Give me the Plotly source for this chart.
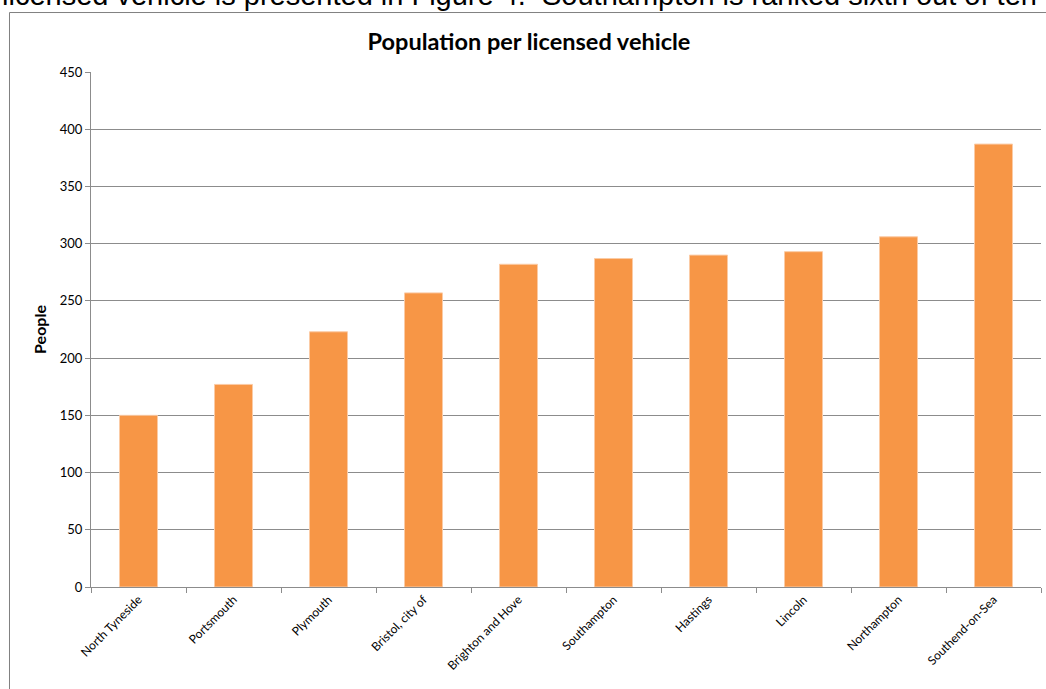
import plotly.graph_objects as go

areas = [
    "North Tyneside", "Portsmouth", "Plymouth", "Bristol, city of",
    "Brighton and Hove", "Southampton", "Hastings", "Lincoln",
    "Northampton", "Southend-on-Sea",
]
people = [150, 177, 223, 257, 282, 287, 290, 293, 306, 387]

BAR = "#F79646"
GRID = "#8C8C8C"

fig = go.Figure(
    go.Bar(
        x=areas,
        y=people,
        marker=dict(color=BAR, line=dict(color="#FBCBA5", width=1)),
        width=0.4,
    )
)

fig.update_layout(
    width=1046,
    height=689,
    margin=dict(l=91, r=5, t=72, b=102, autoexpand=False),
    paper_bgcolor="white",
    plot_bgcolor="white",
    font=dict(family="Lato, Open Sans, sans-serif", color="#000000"),
    showlegend=False,
    title=dict(
        text="<b>Population per licensed vehicle</b>",
        x=529 / 1046, xanchor="center", xref="container",
        y=1 - 42 / 689, yanchor="middle", yref="container",
        font=dict(size=23.5),
    ),
)

fig.update_yaxes(
    range=[0, 450],
    dtick=50,
    showgrid=True,
    gridcolor=GRID,
    gridwidth=1,
    showline=True,
    linecolor=GRID,
    ticks="outside",
    ticklen=5,
    tickcolor=GRID,
    tickfont=dict(size=13),
    title=dict(text="<b>People</b>", font=dict(size=16), standoff=9),
    zeroline=False,
    automargin=False,
)

fig.update_xaxes(
    showline=True,
    linecolor=GRID,
    ticks="outside",
    tickson="boundaries",
    ticklen=5,
    tickcolor=GRID,
    tickangle=-45,
    tickfont=dict(size=12),
    automargin=False,
)

# surrounding chart frame, as in the source document
fig.add_shape(
    type="rect", xref="paper", yref="paper",
    x0=-0.0858, x1=1.2, y0=-0.5, y1=1.1155,
    line=dict(color="#808080", width=1), fillcolor="rgba(0,0,0,0)",
    layer="below",
)

# body text of the page, cut off above the chart
fig.add_annotation(
    text="licensed vehicle is presented in Figure 4.  Southampton is ranked sixth out of ten",
    xref="paper", yref="paper", x=-0.0958, y=1.1155,
    xanchor="left", yanchor="bottom", showarrow=False,
    font=dict(family="Liberation Sans, Arial", size=29, color="#000000"),
)

fig.write_html(
    "out.html",
    config={"displayModeBar": False},
    post_script="document.body.style.margin='0';",
)
